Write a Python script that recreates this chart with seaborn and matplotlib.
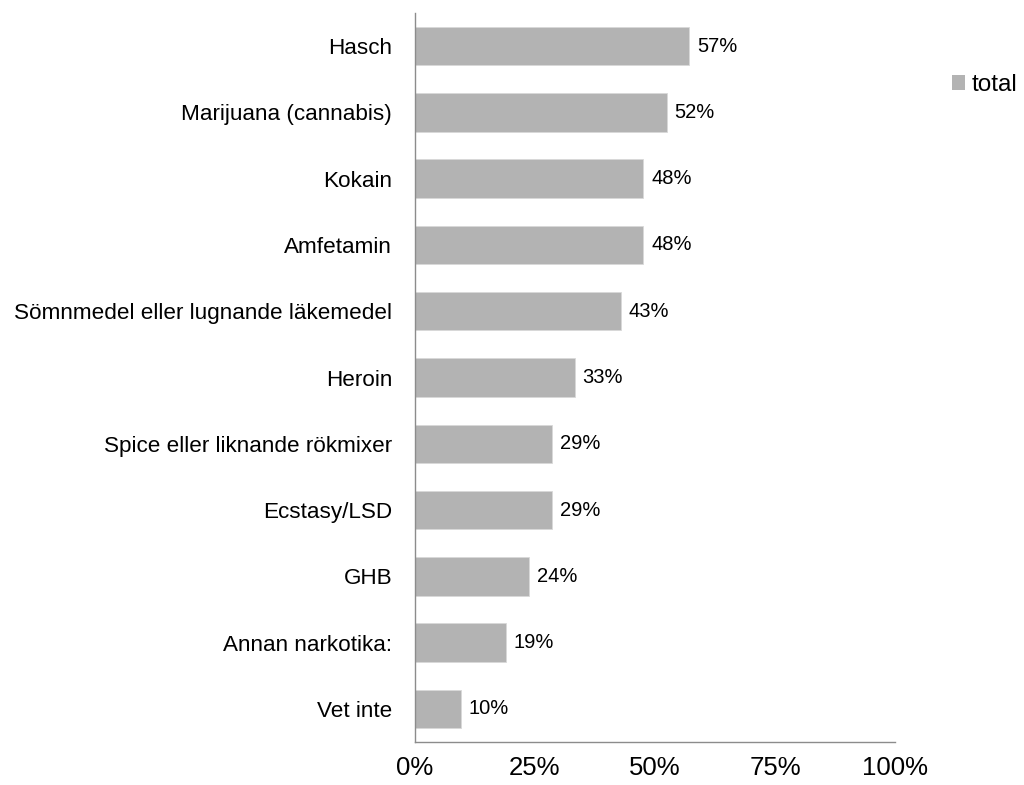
import matplotlib
matplotlib.use("Agg")
import matplotlib.pyplot as plt
import seaborn as sns
import pandas as pd
from matplotlib.patches import Patch

categories = ["Hasch", "Marijuana (cannabis)", "Kokain", "Amfetamin",
              "Sömnmedel eller lugnande läkemedel", "Heroin",
              "Spice eller liknande rökmixer", "Ecstasy/LSD", "GHB",
              "Annan narkotika:", "Vet inte"]
values = [57.1, 52.4, 47.6, 47.6, 42.9, 33.3, 28.6, 28.6, 23.8, 19.0, 9.5]
value_labels = ["57%", "52%", "48%", "48%", "43%", "33%", "29%", "29%", "24%", "19%", "10%"]
xticks = [0, 25, 50, 75, 100]
xtick_labels = ["0%", "25%", "50%", "75%", "100%"]
series_name = "total"

sns.set_style("white")
plt.rcParams["font.family"] = ["Liberation Sans", "DejaVu Sans"]
plt.rcParams["text.color"] = "black"
plt.rcParams["xtick.color"] = "black"
plt.rcParams["ytick.color"] = "black"

df = pd.DataFrame({"cat": categories, "val": values})

fig = plt.figure(figsize=(10.24, 7.85), dpi=100)
ax = fig.add_axes([415/1024, 1 - 742/785, 480/1024, 729/785])
bar_color = "#b3b3b3"
sns.barplot(data=df, y="cat", x="val", orient="h", color=bar_color, width=0.58,
            edgecolor="#d9d9d9", linewidth=0.6, saturation=1, ax=ax)

for i, (v, lab) in enumerate(zip(values, value_labels)):
    ax.text(v + 1.6, i, lab, va="center", ha="left", fontsize=14.5, color="black")

ax.set_xlim(0, 100)
ax.set_ylim(len(categories) - 0.5, -0.5)
ax.set_xticks(xticks)
ax.set_xticklabels(xtick_labels, fontsize=18.5)
ax.set_yticks(range(len(categories)))
ax.set_yticklabels(categories, fontsize=16.2)
ax.set_xlabel("")
ax.set_ylabel("")

# y ticks at category boundaries
ax.set_yticks([i + 0.5 for i in range(-1, len(categories))], minor=True)
ax.tick_params(axis="y", which="major", length=0, pad=16.5, labelcolor="black")
ax.tick_params(axis="y", which="minor", length=7, width=1, color="#8c8c8c", direction="out")
ax.tick_params(axis="x", which="major", length=7, width=1, color="#8c8c8c", direction="out",
               pad=3, labelcolor="black")

for s in ["top", "right"]:
    ax.spines[s].set_visible(False)
for s in ["left", "bottom"]:
    ax.spines[s].set_color("#8c8c8c")
    ax.spines[s].set_linewidth(1)

handle = Patch(facecolor=bar_color, edgecolor="none")
fig.legend([handle], [series_name], loc="center left", bbox_to_anchor=(952/1024, 1 - 85/785),
           frameon=False, fontsize=17.5, handlelength=0.54, handleheight=0.54, handletextpad=0.28,
           borderaxespad=0, borderpad=0, labelcolor="black")

fig.savefig("out.png", dpi=100)
